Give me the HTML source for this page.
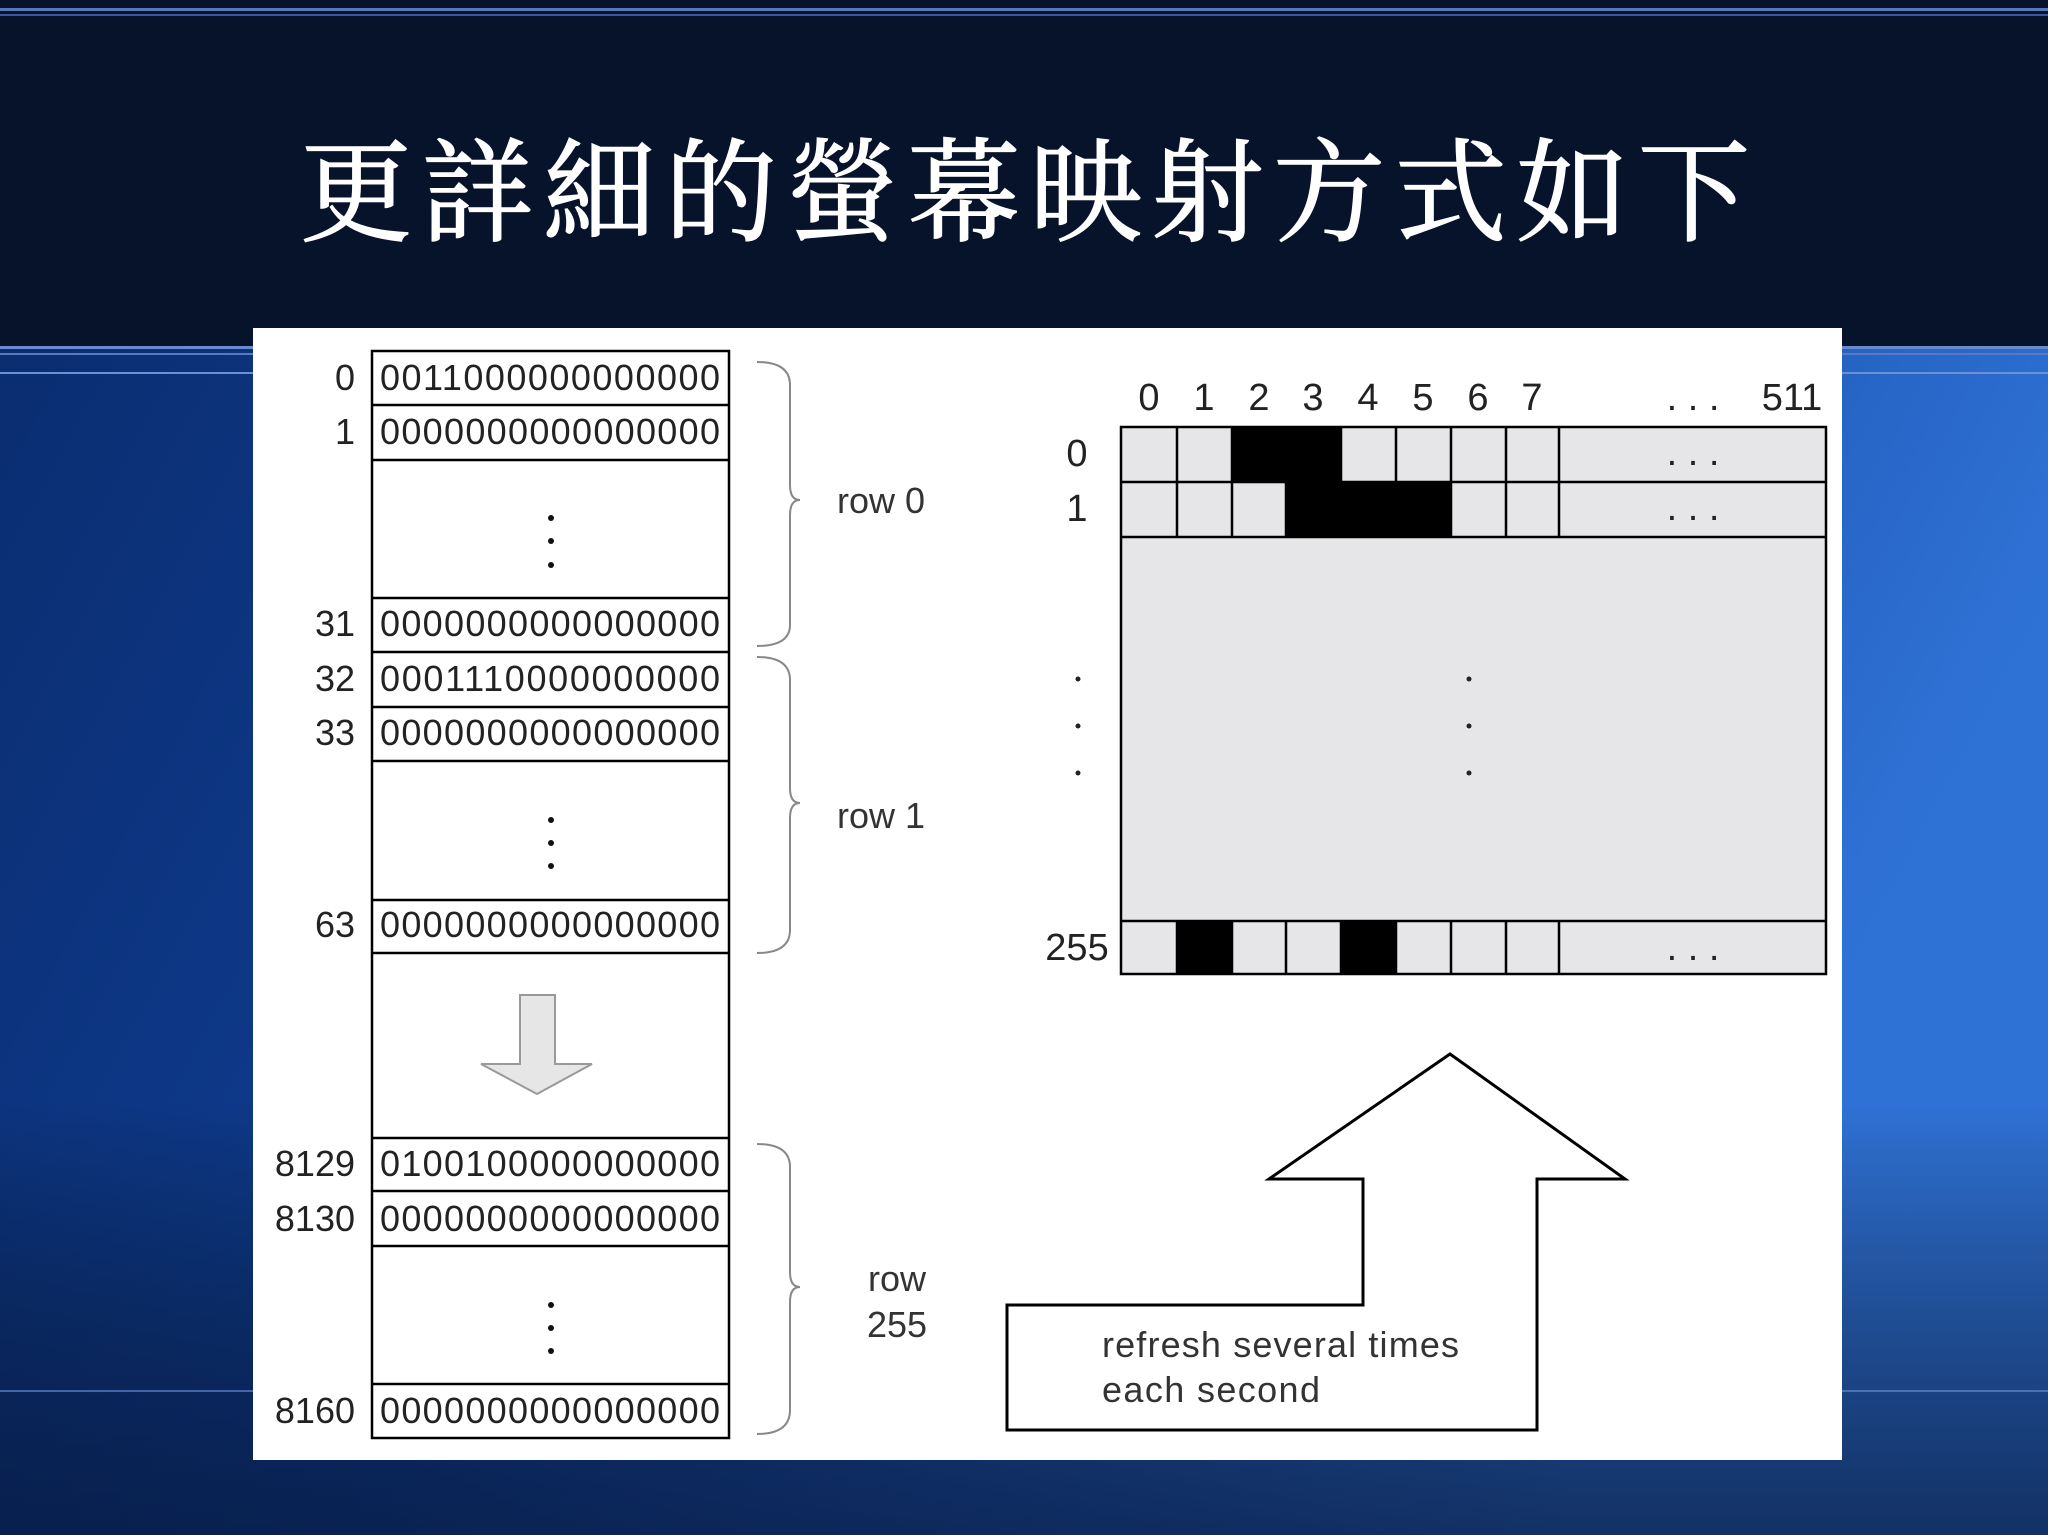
<!DOCTYPE html>
<html><head><meta charset="utf-8"><style>
html,body{margin:0;padding:0;width:2048px;height:1535px;overflow:hidden;background:#06132b}
svg{display:block}
</style></head><body>
<svg width="2048" height="1535" viewBox="0 0 2048 1535" xmlns="http://www.w3.org/2000/svg" font-family="Liberation Sans, sans-serif">
<defs>
<linearGradient id="bg" x1="0" y1="0" x2="1" y2="0.4">
<stop offset="0" stop-color="#0a2a6a"/><stop offset="0.5" stop-color="#0f3f95"/><stop offset="1" stop-color="#2f72d6"/>
</linearGradient>
<linearGradient id="bot" x1="0" y1="0" x2="0" y2="1">
<stop offset="0" stop-color="#000" stop-opacity="0"/><stop offset="1" stop-color="#061536" stop-opacity="0.7"/>
</linearGradient>
</defs>
<rect x="0" y="0" width="2048" height="1535" fill="url(#bg)"/>
<rect x="0" y="1100" width="2048" height="435" fill="url(#bot)"/>
<rect x="0" y="0" width="2048" height="346" fill="#06132b"/>
<rect x="0" y="8" width="2048" height="3" fill="#5a78b8"/>
<rect x="0" y="14" width="2048" height="2" fill="#3b5a9a"/>
<rect x="0" y="346" width="2048" height="3" fill="#6a8ad0"/>
<rect x="0" y="353" width="2048" height="2" fill="#5a7ac0"/>
<rect x="0" y="372" width="2048" height="2" fill="#6a90d8"/>
<rect x="0" y="1390" width="2048" height="2" fill="#6a90d8" opacity="0.6"/>
<text x="1025" y="232" fill="#fff" font-size="112" text-anchor="middle" font-family="Liberation Serif, Noto Serif CJK SC, serif" textLength="1450" stroke="#fff" stroke-width="1.5">更詳細的螢幕映射方式如下</text>

<rect x="253" y="328" width="1589" height="1132" fill="#fff"/>

<g stroke="#000" stroke-width="2.5" fill="#fff">
<rect x="372" y="351" width="357" height="1087"/>
<line x1="372" y1="405" x2="729" y2="405"/><line x1="372" y1="460" x2="729" y2="460"/>
<line x1="372" y1="598" x2="729" y2="598"/><line x1="372" y1="652" x2="729" y2="652"/>
<line x1="372" y1="707" x2="729" y2="707"/><line x1="372" y1="761" x2="729" y2="761"/>
<line x1="372" y1="900" x2="729" y2="900"/><line x1="372" y1="953" x2="729" y2="953"/>
<line x1="372" y1="1138" x2="729" y2="1138"/><line x1="372" y1="1191" x2="729" y2="1191"/>
<line x1="372" y1="1246" x2="729" y2="1246"/><line x1="372" y1="1384" x2="729" y2="1384"/>
</g>
<g font-size="36" fill="#222" text-anchor="end">
<text x="355" y="390">0</text><text x="355" y="444">1</text>
<text x="355" y="636">31</text><text x="355" y="691">32</text><text x="355" y="745">33</text>
<text x="355" y="937">63</text><text x="355" y="1176">8129</text><text x="355" y="1231">8130</text><text x="355" y="1423">8160</text>
</g>
<g font-size="36" fill="#222" text-anchor="middle">
<text x="550" y="390" textLength="340">0011000000000000</text>
<text x="550" y="444" textLength="340">0000000000000000</text>
<text x="550" y="636" textLength="340">0000000000000000</text>
<text x="550" y="691" textLength="340">0001110000000000</text>
<text x="550" y="745" textLength="340">0000000000000000</text>
<text x="550" y="937" textLength="340">0000000000000000</text>
<text x="550" y="1176" textLength="340">0100100000000000</text>
<text x="550" y="1231" textLength="340">0000000000000000</text>
<text x="550" y="1423" textLength="340">0000000000000000</text>
</g>
<g fill="#111">
<circle cx="551" cy="518" r="3"/><circle cx="551" cy="541" r="3"/><circle cx="551" cy="565" r="3"/>
<circle cx="551" cy="820" r="3"/><circle cx="551" cy="843" r="3"/><circle cx="551" cy="866" r="3"/>
<circle cx="551" cy="1305" r="3"/><circle cx="551" cy="1328" r="3"/><circle cx="551" cy="1351" r="3"/>
</g>
<polygon points="520,995 555,995 555,1064 592,1064 537,1094 481,1064 520,1064" fill="#e6e6e6" stroke="#999" stroke-width="2"/>

<g fill="none" stroke="#888" stroke-width="2">
<path d="M757,362 Q790,362 790,385 L790,485 Q790,500 800,500 Q790,500 790,515 L790,625 Q790,646 757,646"/>
<path d="M757,657 Q790,657 790,680 L790,788 Q790,803 800,803 Q790,803 790,818 L790,930 Q790,953 757,953"/>
<path d="M757,1144 Q790,1144 790,1167 L790,1272 Q790,1287 800,1287 Q790,1287 790,1302 L790,1410 Q790,1434 757,1434"/>
</g>
<g font-size="36" fill="#333">
<text x="837" y="513">row 0</text><text x="837" y="828">row 1</text>
<text x="897" y="1291" text-anchor="middle">row</text><text x="897" y="1337" text-anchor="middle">255</text>
</g>

<rect x="1121" y="427" width="705" height="547" fill="#e6e5e8" stroke="#000" stroke-width="2.5"/>
<g fill="#000">
<rect x="1232" y="427" width="109" height="55"/>
<rect x="1286" y="482" width="165" height="55"/>
<rect x="1177" y="921" width="55" height="53"/>
<rect x="1341" y="921" width="55" height="53"/>
</g>
<g stroke="#000" stroke-width="2.5">
<line x1="1121" y1="482" x2="1826" y2="482"/><line x1="1121" y1="537" x2="1826" y2="537"/><line x1="1121" y1="921" x2="1826" y2="921"/>
<line x1="1177" y1="427" x2="1177" y2="537"/><line x1="1232" y1="427" x2="1232" y2="537"/><line x1="1286" y1="427" x2="1286" y2="537"/>
<line x1="1341" y1="427" x2="1341" y2="537"/><line x1="1396" y1="427" x2="1396" y2="537"/><line x1="1451" y1="427" x2="1451" y2="537"/>
<line x1="1506" y1="427" x2="1506" y2="537"/><line x1="1559" y1="427" x2="1559" y2="537"/>
<line x1="1177" y1="921" x2="1177" y2="974"/><line x1="1232" y1="921" x2="1232" y2="974"/><line x1="1286" y1="921" x2="1286" y2="974"/>
<line x1="1341" y1="921" x2="1341" y2="974"/><line x1="1396" y1="921" x2="1396" y2="974"/><line x1="1451" y1="921" x2="1451" y2="974"/>
<line x1="1506" y1="921" x2="1506" y2="974"/><line x1="1559" y1="921" x2="1559" y2="974"/>
</g>
<g font-size="38" fill="#222" text-anchor="middle">
<text x="1149" y="410">0</text><text x="1204" y="410">1</text><text x="1259" y="410">2</text><text x="1313" y="410">3</text>
<text x="1368" y="410">4</text><text x="1423" y="410">5</text><text x="1478" y="410">6</text><text x="1532" y="410">7</text>
<text x="1693" y="410">. . .</text><text x="1792" y="410">511</text>
<text x="1077" y="466">0</text><text x="1077" y="521">1</text><text x="1077" y="960">255</text>
<text x="1693" y="465">. . .</text><text x="1693" y="520">. . .</text><text x="1693" y="960">. . .</text>
</g>
<g fill="#222">
<circle cx="1078" cy="679" r="2.5"/><circle cx="1078" cy="726" r="2.5"/><circle cx="1078" cy="773" r="2.5"/>
<circle cx="1469" cy="679" r="2.5"/><circle cx="1469" cy="726" r="2.5"/><circle cx="1469" cy="773" r="2.5"/>
</g>

<polygon points="1450,1054 1269,1179 1363,1179 1363,1305 1007,1305 1007,1430 1537,1430 1537,1179 1625,1179" fill="#fff" stroke="#000" stroke-width="3"/>
<g font-size="36" fill="#333">
<text x="1102" y="1357" textLength="357">refresh several times</text>
<text x="1102" y="1402" textLength="218">each second</text>
</g>
</svg>
</body></html>
